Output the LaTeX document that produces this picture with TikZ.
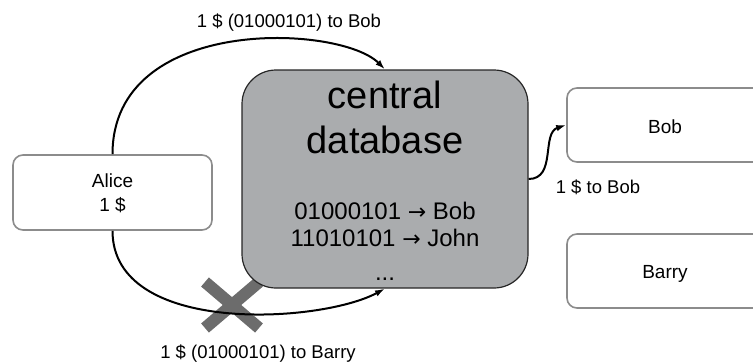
\documentclass[tikz,border=0pt]{standalone}
\usepackage{fontspec}
\setmainfont{Liberation Sans}
\newfontfamily\symfont{DejaVu Sans}
\usetikzlibrary{arrows.meta,calc}
\definecolor{dbfill}{RGB}{170,172,174}
\definecolor{boxline}{RGB}{140,140,140}
\definecolor{crossgray}{RGB}{108,108,108}
\newcommand{\rarr}{{\symfont\fontsize{22}{28}\selectfont →}}
\begin{document}
\begin{tikzpicture}[x=1pt,y=-1pt,
  box/.style={draw=boxline, line width=1.6pt, rounded corners=10pt, fill=white, inner sep=0pt},
  dbbox/.style={draw=black!85, line width=1.2pt, fill=dbfill, rounded corners=34pt, inner sep=0pt},
  conn/.style={-{Latex[length=10pt,width=6.5pt]}, line width=2pt},
  lbl/.style={font=\fontsize{18.5}{22}\selectfont, anchor=base, inner sep=0pt},
  boxtext/.style={font=\fontsize{19}{23}\selectfont, anchor=base, inner sep=0pt},
  dbtitle/.style={font=\fontsize{38}{44}\selectfont, anchor=base, inner sep=0pt},
  dbentry/.style={font=\fontsize{24}{28}\selectfont, anchor=base, inner sep=0pt}]
\useasboundingbox (0,0) rectangle (753,362);
\clip (0,0) rectangle (753,362);
% cross mark
\coordinate (xmark) at (232,305);
\draw[crossgray, line width=12pt] ($(xmark)+(-27,-23)$) -- ($(xmark)+(27,23)$);
\draw[crossgray, line width=12pt] ($(xmark)+(-27,23)$) -- ($(xmark)+(27,-23)$);
% boxes
\node[box, minimum width=199pt, minimum height=75pt] (alice) at (112.5,192.5) {};
\node[dbbox, minimum width=286pt, minimum height=218pt] (db) at (385,179) {};
\node[box, minimum width=196pt, minimum height=74pt] (bob) at (665,125) {};
\node[box, minimum width=196pt, minimum height=74pt] (barry) at (665,271) {};
% connectors
\draw[conn] (alice.north) .. controls +(0,-140) and +(-45,-45) .. (db.north);
\draw[conn] (alice.south) .. controls +(0,105) and +(-65,35) .. (db.south);
\draw[conn] (db.east) .. controls +(28,0) and +(-25,8) .. (bob.west);
% texts
\node[boxtext] (alicename) at (112.5,187) {Alice};
\node[boxtext] (alicemoney) at (112.5,211) {1 \$};
\node[dbtitle] (dbt1) at (385,108) {central};
\node[dbtitle] (dbt2) at (385,153) {database};
\node[dbentry] (e1) at (385,219) {01000101 \rarr{} Bob};
\node[dbentry] (e2) at (385,246) {11010101 \rarr{} John};
\node[dbentry] (e3) at (385,280) {...};
\node[boxtext] (bobname) at (665,133) {Bob};
\node[boxtext] (barryname) at (665,278) {Barry};
\node[lbl] (toplbl) at (289,27) {1 \$ (01000101) to Bob};
\node[lbl] (botlbl) at (258,358) {1 \$ (01000101) to Barry};
\node[lbl] (sidelbl) at (598,193) {1 \$ to Bob};
\end{tikzpicture}
\end{document}
